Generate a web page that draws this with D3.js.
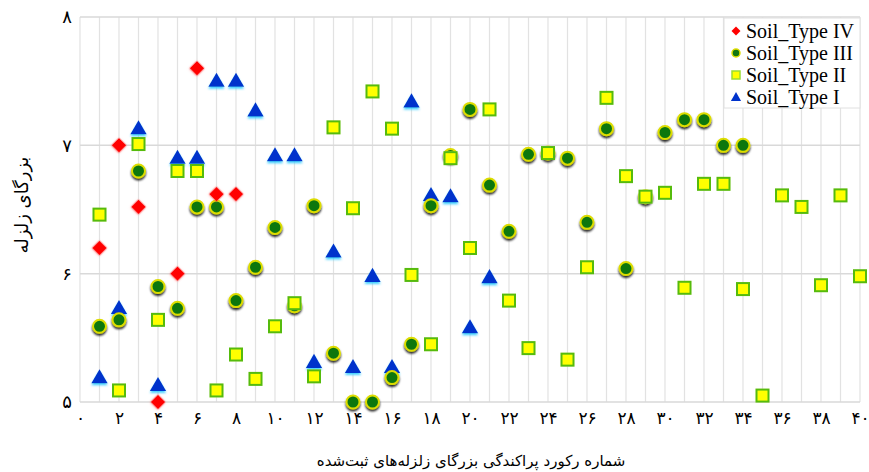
<!DOCTYPE html>
<html><head><meta charset="utf-8">
<script src="https://cdnjs.cloudflare.com/ajax/libs/d3/7.8.5/d3.min.js"></script>
<style>body{margin:0;background:#fff}svg{display:block}</style>
</head><body>
<svg id="c" width="869" height="472"></svg>
<script>
const xTicks = [0,2,4,6,8,10,12,14,16,18,20,22,24,26,28,30,32,34,36,38,40];
const yTicks = [5,6,7,8];
const seriesNames = ["Soil_Type IV","Soil_Type III","Soil_Type II","Soil_Type I"];
const typeIV = [6.2, 7.0, 6.52, 5.0, 6.0, 7.6, 6.62, 6.62];
const typeIII = [5.59, 5.64, 6.8, 5.9, 5.73, 6.52, 6.52, 5.79, 6.05, 6.36, 5.75, 6.53, 5.38, 5.0, 5.0, 5.19, 5.45, 6.53, 6.92, 7.28, 6.69, 6.33, 6.93, 6.94, 6.9, 6.4, 7.13, 6.04, 6.6, 7.1, 7.2, 7.2, 7.0, 7.0];
const typeII = [6.46, 5.09, 7.01, 5.64, 6.8, 6.8, 5.09, 5.37, 5.18, 5.59, 5.77, 5.2, 7.14, 6.51, 7.42, 7.13, 5.99, 5.45, 6.9, 6.2, 7.28, 5.79, 5.42, 6.94, 5.33, 6.05, 7.37, 6.76, 6.6, 6.63, 5.89, 6.7, 6.7, 5.88, 5.05, 6.61, 6.52, 5.91, 6.61, 5.98];
const typeI = [5.19, 5.73, 7.13, 5.13, 6.9, 6.9, 7.5, 7.5, 7.27, 6.92, 6.92, 5.31, 6.17, 5.27, 5.98, 5.27, 7.34, 6.61, 6.6, 5.58, 5.97];
const xTitle = "شماره رکورد پراکندگی بزرگای زلزله‌های ثبت‌شده";
const yTitle = "بزرگای زلزله";

const fa = n => String(n).replace(/[0-9]/g, d => "۰۱۲۳۴۵۶۷۸۹"[d]);
const svg = d3.select("#c");
const x = d3.scaleLinear().domain([0,40]).range([80,860]);
const y = d3.scaleLinear().domain([5,8]).range([402,17]);

const defs = svg.append("defs");
function shadow(id, color, dy, sd, op){
  const f = defs.append("filter").attr("id", id).attr("x","-50%").attr("y","-50%").attr("width","200%").attr("height","200%");
  f.append("feDropShadow").attr("dx",0).attr("dy",dy).attr("stdDeviation",sd).attr("flood-color",color).attr("flood-opacity",op);
}
shadow("shC","#000",2,1.3,0.85);
shadow("shT","#33ccff",2,1.2,0.9);
shadow("shD","#ff6666",0.5,1.0,0.6);
shadow("shS","#ccee66",0,0.6,0.5);

// grid
const g = svg.append("g");
g.selectAll("line.v").data(d3.range(0,41)).join("line")
  .attr("x1", d=>x(d)).attr("x2", d=>x(d)).attr("y1", y(8)).attr("y2", y(5))
  .attr("stroke","#e2e2e2").attr("stroke-width",1.2);
g.selectAll("line.h").data(yTicks).join("line")
  .attr("x1", x(0)).attr("x2", x(40)).attr("y1", d=>y(d)).attr("y2", d=>y(d))
  .attr("stroke","#d9d9d9").attr("stroke-width",1.5);

// axes
const xAxis = d3.axisBottom(x).tickValues(xTicks).tickFormat(fa).tickSize(0).tickPadding(10);
const ax = svg.append("g").attr("transform",`translate(0,${y(5)})`).call(xAxis);
ax.select(".domain").remove();
ax.selectAll("text").attr("font-family","DejaVu Sans").attr("font-size",17).attr("fill","#000");
const yAxis = d3.axisLeft(y).tickValues(yTicks).tickFormat(fa).tickSize(0).tickPadding(8);
const ay = svg.append("g").attr("transform",`translate(${x(0)},0)`).call(yAxis);
ay.select(".domain").remove();
ay.selectAll("text").attr("font-family","DejaVu Sans").attr("font-size",18).attr("fill","#000");

// titles
svg.append("text").attr("x",471).attr("y",466).attr("text-anchor","middle")
  .attr("font-family","DejaVu Sans").attr("font-size",15).attr("direction","rtl").text(xTitle);
svg.append("text").attr("transform",`translate(28,205) rotate(-90)`).attr("text-anchor","middle")
  .attr("font-family","DejaVu Sans").attr("font-size",18).attr("direction","rtl").text(yTitle);

const sym = (type, size) => d3.symbol().type(type).size(size)();
const plot = svg.append("g");
function drawTri(gs, data){
  gs.selectAll("path.t").data(data).join("path")
    .attr("transform",(d,i)=>`translate(${x(i+1)},${y(d)+1})`)
    .attr("d", sym(d3.symbolTriangle,115)).attr("fill","#0033cc").attr("filter","url(#shT)");
}
function drawCirc(gs, data){
  gs.selectAll("circle.c").data(data).join("circle")
    .attr("cx",(d,i)=>x(i+1)).attr("cy",d=>y(d)).attr("r",6.5)
    .attr("fill","#117711").attr("stroke","#dddd00").attr("stroke-width",2).attr("filter","url(#shC)");
}
function drawSq(gs, data){
  gs.selectAll("rect.s").data(data).join("rect")
    .attr("x",(d,i)=>x(i+1)-6).attr("y",d=>y(d)-6).attr("width",12).attr("height",12)
    .attr("fill","#ffff00").attr("stroke","#55bb11").attr("stroke-width",2).attr("filter","url(#shS)");
}
function drawDia(gs, data){
  gs.selectAll("path.d").data(data).join("path")
    .attr("transform",(d,i)=>`translate(${x(i+1)},${y(d)}) rotate(45)`)
    .attr("d", sym(d3.symbolSquare,110)).attr("fill","#ff0000").attr("filter","url(#shD)");
}
drawTri(plot.append("g"), typeI);
drawCirc(plot.append("g"), typeIII);
drawSq(plot.append("g"), typeII);
drawDia(plot.append("g"), typeIV);

// legend
const lg = svg.append("g");
lg.append("rect").attr("x",724).attr("y",18).attr("width",136).attr("height",90)
  .attr("fill","#fff").attr("stroke","#e0e0e0").attr("stroke-width",1);
const rows = [31,53,75,97];
seriesNames.forEach((name,i)=>{
  const cy = rows[i], cx = 736;
  if(i===0) lg.append("path").attr("transform",`translate(${cx},${cy}) rotate(45)`).attr("d",sym(d3.symbolSquare,40)).attr("fill","#ff0000");
  if(i===1) lg.append("circle").attr("cx",cx).attr("cy",cy).attr("r",4).attr("fill","#117711").attr("stroke","#dddd00").attr("stroke-width",1.5);
  if(i===2) lg.append("rect").attr("x",cx-4).attr("y",cy-4).attr("width",8).attr("height",8).attr("fill","#ffff00").attr("stroke","#99dd33").attr("stroke-width",1.5);
  if(i===3) lg.append("path").attr("transform",`translate(${cx},${cy+1})`).attr("d",sym(d3.symbolTriangle,45)).attr("fill","#0033cc");
  lg.append("text").attr("x",746).attr("y",cy+7).attr("font-family","Liberation Serif").attr("font-size",20).attr("fill","#000").text(name);
});
</script>
</body></html>
